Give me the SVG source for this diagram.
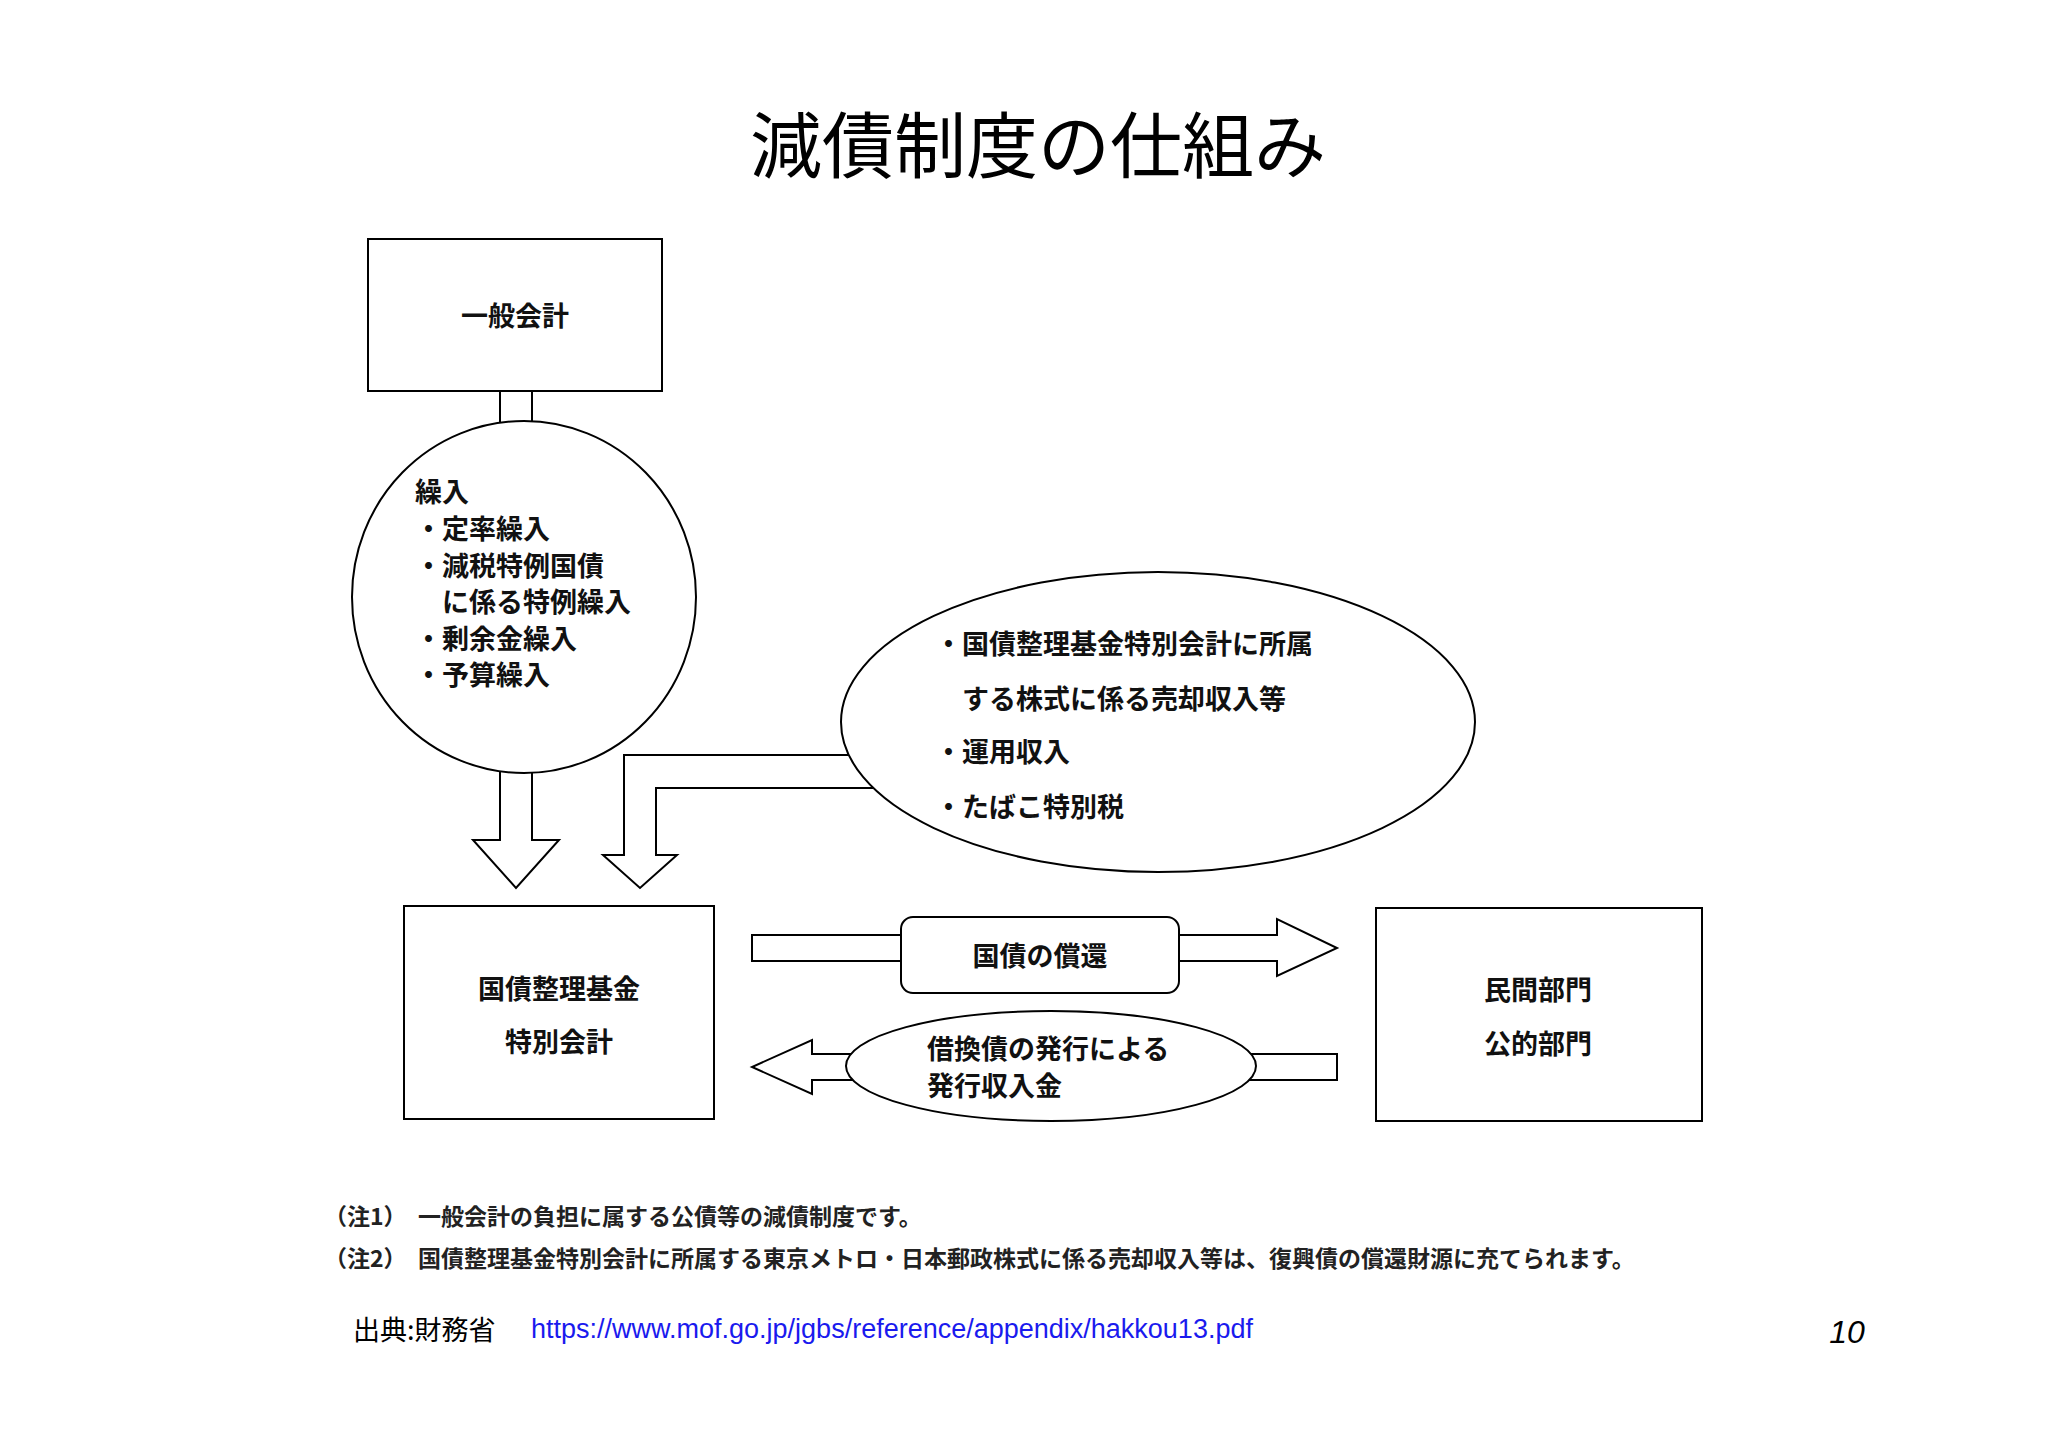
<svg xmlns="http://www.w3.org/2000/svg" width="2048" height="1448" viewBox="0 0 2048 1448">
<style>
.s{fill:#fff;stroke:#000;stroke-width:2}
.t{font-family:"Noto Sans CJK JP","Liberation Sans",sans-serif;font-size:27px;font-weight:bold;fill:#111}
.n{font-family:"Noto Sans CJK JP","Liberation Sans",sans-serif;font-size:23px;font-weight:bold;fill:#222}
.c{text-anchor:middle}
</style>
<rect width="2048" height="1448" fill="#fff"/>
<text x="1038" y="172" class="c" style="font-family:'Noto Sans CJK JP',sans-serif;font-size:72px;fill:#000">減債制度の仕組み</text>
<g id="connectors">
<rect class="s" x="500" y="391" width="32" height="40"/>
<polygon class="s" points="500,765 532,765 532,840 559,840 516,888 473,840 500,840"/>
<polygon class="s" points="880,755 624,755 624,855 603,855 640,888 677,855 656,855 656,788 880,788"/>
<polygon class="s" points="752,935 1277,935 1277,919 1337,948 1277,976 1277,961 752,961"/>
<polygon class="s" points="1337,1054 812,1054 812,1040 752,1067 812,1094 812,1080 1337,1080"/>
</g>
<g id="n1"><rect class="s" x="368" y="239" width="294" height="152"/><text class="t c" x="515" y="326">一般会計</text></g>
<g id="n2"><ellipse class="s" cx="524" cy="597" rx="172" ry="176"/>
<text class="t" x="415" y="502">繰入</text>
<text class="t" x="415" y="539">・定率繰入</text>
<text class="t" x="415" y="576">・減税特例国債</text>
<text class="t" x="415" y="612"> 　に係る特例繰入</text>
<text class="t" x="415" y="649">・剰余金繰入</text>
<text class="t" x="415" y="685">・予算繰入</text></g>
<g id="n3"><ellipse class="s" cx="1158" cy="722" rx="317" ry="150"/>
<text class="t" x="935" y="654">・国債整理基金特別会計に所属</text>
<text class="t" x="935" y="709"> 　する株式に係る売却収入等</text>
<text class="t" x="935" y="762">・運用収入</text>
<text class="t" x="935" y="817">・たばこ特別税</text></g>
<g id="n4"><rect class="s" x="404" y="906" width="310" height="213"/><text class="t c" x="559" y="999">国債整理基金</text><text class="t c" x="559" y="1052">特別会計</text></g>
<g id="n5"><rect class="s" x="1376" y="908" width="326" height="213"/><text class="t c" x="1538" y="1000">民間部門</text><text class="t c" x="1538" y="1054">公的部門</text></g>
<g id="n6"><rect class="s" x="901" y="917" width="278" height="76" rx="12"/><text class="t c" x="1040" y="966">国債の償還</text></g>
<g id="n7"><ellipse class="s" cx="1051" cy="1066" rx="205" ry="55"/><text class="t" x="927" y="1059">借換債の発行による</text><text class="t" x="927" y="1096">発行収入金</text></g>
<text class="n" x="324" y="1225">（注1）　一般会計の負担に属する公債等の減債制度です。</text>
<text class="n" x="324" y="1267">（注2）　国債整理基金特別会計に所属する東京メトロ・日本郵政株式に係る売却収入等は、復興債の償還財源に充てられます。</text>
<text x="353" y="1340" style="font-family:'Noto Sans CJK JP',sans-serif;font-size:27px;fill:#000">出典:財務省</text>
<text x="531" y="1338" style="font-family:'Liberation Sans',sans-serif;font-size:27px;fill:#1a1aee">https://www.mof.go.jp/jgbs/reference/appendix/hakkou13.pdf</text>
<text x="1847" y="1343" class="c" style="font-family:'Liberation Sans',sans-serif;font-size:32px;font-style:italic;fill:#000">10</text>
</svg>
